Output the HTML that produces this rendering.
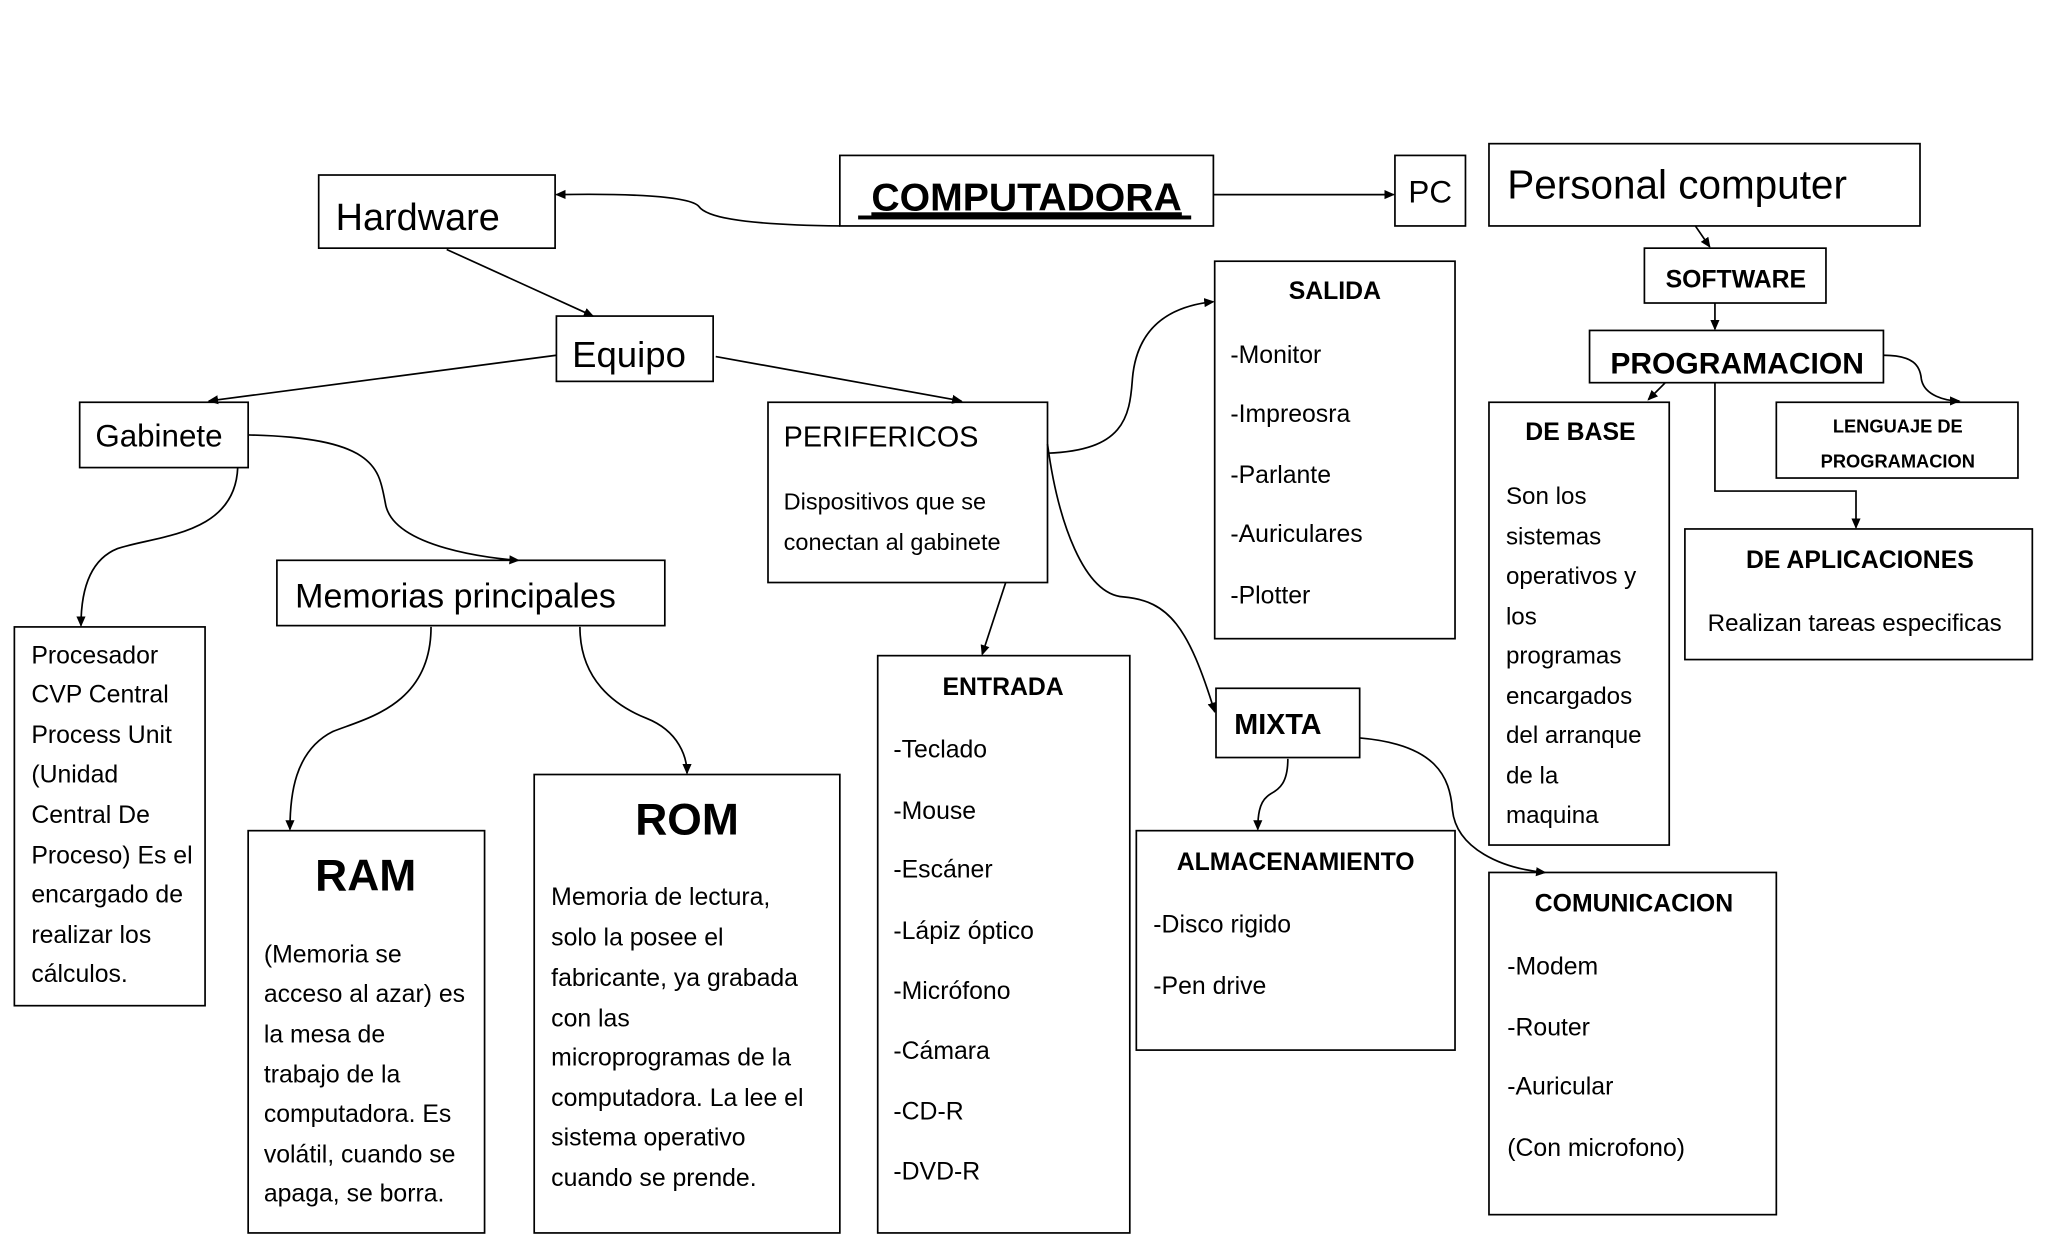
<!DOCTYPE html>
<html><head><meta charset="utf-8"><style>
html,body{margin:0;padding:0;background:#fff;}
svg{display:block;}
text{font-family:"Liberation Sans",sans-serif;fill:#000;}
.b{font-weight:bold;}
</style></head><body>
<svg width="2048" height="1243" viewBox="0 0 1568 951.7" preserveAspectRatio="none" xmlns="http://www.w3.org/2000/svg">
<defs><marker id="a" markerWidth="8" markerHeight="8" refX="7" refY="4" orient="auto" markerUnits="userSpaceOnUse"><path d="M0,0.5 L8,4 L0,7.5 z" fill="#000"/></marker></defs>
<g fill="#fff" stroke="#000" stroke-width="1.3">
<rect x="643" y="119" width="286" height="54"/>
<rect x="1068" y="119" width="54" height="54"/>
<rect x="1140" y="110" width="330" height="63"/>
<rect x="244" y="134" width="181" height="56"/>
<rect x="426" y="242" width="120" height="50"/>
<rect x="61" y="308" width="129" height="50"/>
<rect x="212" y="429" width="297" height="50"/>
<rect x="11" y="480" width="146" height="290"/>
<rect x="190" y="636" width="181" height="308"/>
<rect x="409" y="593" width="234" height="351"/>
<rect x="588" y="308" width="214" height="138"/>
<rect x="672" y="502" width="193" height="442"/>
<rect x="930" y="200" width="184" height="289"/>
<rect x="931" y="527" width="110" height="53"/>
<rect x="870" y="636" width="244" height="168"/>
<rect x="1140" y="668" width="220" height="262"/>
<rect x="1259" y="190" width="139" height="42"/>
<rect x="1217" y="253" width="225" height="40"/>
<rect x="1140" y="308" width="138" height="339"/>
<rect x="1360" y="308" width="185" height="58"/>
<rect x="1290" y="405" width="266" height="100"/>
</g>
<g fill="none" stroke="#000" stroke-width="1.3" marker-end="url(#a)">
<path d="M929,149 L1067,149"/>
<path d="M643,173 C560,172 540,165 535,158 C528,150 480,148 426,149"/>
<path d="M342,191 L454,242"/>
<path d="M426,272 L160,307"/>
<path d="M548,273 L736,307"/>
<path d="M182,358 C180,410 120,410 90,420 C65,430 62,460 62,479"/>
<path d="M190,333 C290,335 290,360 295,385 C300,420 380,428 397,429"/>
<path d="M330,480 C330,540 280,550 255,560 C225,575 222,610 222,635"/>
<path d="M444,480 C444,520 470,540 495,550 C520,560 526,580 526,592"/>
<path d="M770,446 L752,501"/>
<path d="M802,347 C860,345 865,320 867,290 C870,255 890,235 929,231"/>
<path d="M802,340 C810,400 830,455 860,457 C895,460 910,480 930,545"/>
<path d="M986,581 C986,605 975,605 970,610 C964,615 963,625 963,635"/>
<path d="M1041,565 C1100,570 1110,595 1112,620 C1115,650 1150,665 1183,668"/>
<path d="M1298,173 L1309,189"/>
<path d="M1313,232 L1313,252"/>
<path d="M1275,293 L1262,306"/>
<path d="M1313,293 L1313,376 L1421,376 L1421,404"/>
<path d="M1442,272 C1465,272 1470,280 1471,290 C1473,303 1490,307 1500,307"/>
</g>
<text x="786" y="161" font-size="30" class="b" text-anchor="middle" text-decoration="underline">COMPUTADORA</text>
<rect x="657" y="165" width="255" height="3" fill="#000"/>
<text x="1095" y="155" font-size="24" text-anchor="middle">PC</text>
<text x="1154" y="152" font-size="31">Personal computer</text>
<text x="257" y="176" font-size="29">Hardware</text>
<text x="438" y="281" font-size="28">Equipo</text>
<text x="73" y="342" font-size="24">Gabinete</text>
<text x="226" y="465" font-size="26">Memorias principales</text>
<g font-size="19">
<text x="24" y="508">Procesador</text><text x="24" y="538">CVP Central</text><text x="24" y="569">Process Unit</text><text x="24" y="599">(Unidad</text><text x="24" y="630">Central De</text><text x="24" y="661">Proceso) Es el</text><text x="24" y="691">encargado de</text><text x="24" y="722">realizar los</text><text x="24" y="752">cálculos.</text>
</g>
<text x="280" y="682" font-size="34" class="b" text-anchor="middle">RAM</text>
<g font-size="19">
<text x="202" y="737">(Memoria se</text><text x="202" y="767">acceso al azar) es</text><text x="202" y="798">la mesa de</text><text x="202" y="829">trabajo de la</text><text x="202" y="859">computadora. Es</text><text x="202" y="890">volátil, cuando se</text><text x="202" y="920">apaga, se borra.</text>
</g>
<text x="526" y="639" font-size="34" class="b" text-anchor="middle">ROM</text>
<g font-size="19">
<text x="422" y="693">Memoria de lectura,</text><text x="422" y="724">solo la posee el</text><text x="422" y="755">fabricante, ya grabada</text><text x="422" y="786">con las</text><text x="422" y="816">microprogramas de la</text><text x="422" y="847">computadora. La lee el</text><text x="422" y="877">sistema operativo</text><text x="422" y="908">cuando se prende.</text>
</g>
<text x="600" y="342" font-size="22">PERIFERICOS</text>
<text x="600" y="390" font-size="18">Dispositivos que se</text>
<text x="600" y="421" font-size="18">conectan al gabinete</text>
<text x="768" y="532" font-size="19" class="b" text-anchor="middle">ENTRADA</text>
<g font-size="19">
<text x="684" y="580">-Teclado</text><text x="684" y="627">-Mouse</text><text x="684" y="672">-Escáner</text><text x="684" y="719">-Lápiz óptico</text><text x="684" y="765">-Micrófono</text><text x="684" y="811">-Cámara</text><text x="684" y="857">-CD-R</text><text x="684" y="903">-DVD-R</text>
</g>
<text x="1022" y="229" font-size="19" class="b" text-anchor="middle">SALIDA</text>
<g font-size="19">
<text x="942" y="278">-Monitor</text><text x="942" y="323">-Impreosra</text><text x="942" y="370">-Parlante</text><text x="942" y="415">-Auriculares</text><text x="942" y="462">-Plotter</text>
</g>
<text x="945" y="562" font-size="22" class="b">MIXTA</text>
<text x="992" y="666" font-size="19" class="b" text-anchor="middle">ALMACENAMIENTO</text>
<text x="883" y="714" font-size="19">-Disco rigido</text>
<text x="883" y="761" font-size="19">-Pen drive</text>
<text x="1251" y="698" font-size="19" class="b" text-anchor="middle">COMUNICACION</text>
<g font-size="19">
<text x="1154" y="746">-Modem</text><text x="1154" y="793">-Router</text><text x="1154" y="838">-Auricular</text><text x="1154" y="885">(Con microfono)</text>
</g>
<text x="1329" y="220" font-size="19" class="b" text-anchor="middle">SOFTWARE</text>
<text x="1330" y="286" font-size="23" class="b" text-anchor="middle">PROGRAMACION</text>
<text x="1210" y="337" font-size="19" class="b" text-anchor="middle">DE BASE</text>
<g font-size="18.5">
<text x="1153" y="386">Son los</text><text x="1153" y="417">sistemas</text><text x="1153" y="447">operativos y</text><text x="1153" y="478">los</text><text x="1153" y="508">programas</text><text x="1153" y="539">encargados</text><text x="1153" y="569">del arranque</text><text x="1153" y="600">de la</text><text x="1153" y="630">maquina</text>
</g>
<text x="1453" y="331" font-size="14" class="b" text-anchor="middle">LENGUAJE DE</text>
<text x="1453" y="358" font-size="14" class="b" text-anchor="middle">PROGRAMACION</text>
<text x="1424" y="435" font-size="19" class="b" text-anchor="middle">DE APLICACIONES</text>
<text x="1420" y="483" font-size="18.5" text-anchor="middle">Realizan tareas especificas</text>
</svg>
</body></html>
